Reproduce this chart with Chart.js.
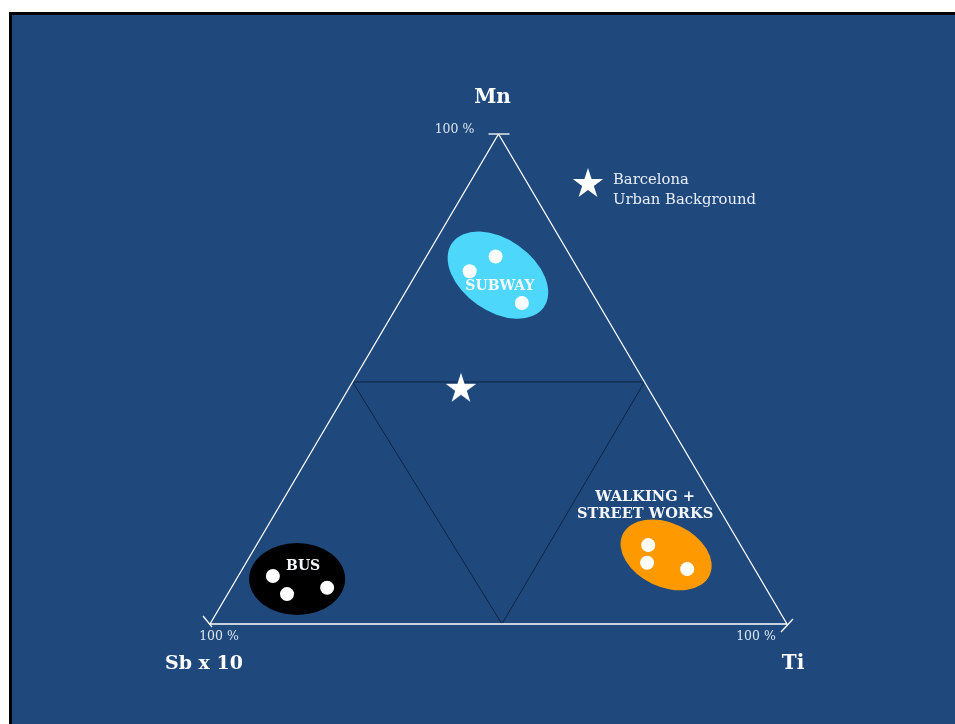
<!DOCTYPE html>
<html>
<head>
<meta charset="utf-8">
<script src="https://cdn.jsdelivr.net/npm/chart.js@4"></script>
<style>
  html, body { margin: 0; padding: 0; background: #ffffff; }
  #wrap { position: relative; width: 955px; height: 724px; }
</style>
</head>
<body>
<div id="wrap"><canvas id="ternary" width="955" height="724"></canvas></div>
<script>
// Ternary compositions, each point is [Mn, Ti, Sb x 10] in %
var corners = ['Mn', 'Ti', 'Sb x 10'];
var cornerTick = '100 %';
var outerTriangle = [[100, 0, 0], [0, 100, 0], [0, 0, 100], [100, 0, 0]];
var innerTriangle = [[49.4, 50.6, 0], [0, 50.6, 49.4], [49.4, 0, 50.6], [49.4, 50.6, 0]];

var subwayPts = [[75, 12, 13], [72, 9, 19], [65.5, 21.3, 13.2]];
var busPts = [[9.8, 6, 84.2], [6.1, 10.3, 83.6], [7.4, 16.6, 76]];
var walkingPts = [[16.1, 67.9, 16], [12.5, 69.5, 18], [11.2, 77.1, 11.7]];
var urbanBackground = [[48, 19.5, 32.5]];

// cluster regions (centre composition)
var groupNames = ['SUBWAY', 'BUS', 'WALKING +\nSTREET WORKS'];
var groupCentres = [[71.2, 14.3, 14.5], [9.2, 10.5, 80.3], [14.1, 72, 13.9]];
var groupColors = ['#4dd8fb', '#000000', '#ff9900'];

var legendText = ['Barcelona', 'Urban Background'];

function toXY(c) {
  var s = c[0] + c[1] + c[2];
  var mn = c[0] / s, ti = c[1] / s;
  return { x: ti + mn / 2, y: mn };
}

// filled five point star used as point style
function makeStar(R) {
  var cv = document.createElement('canvas');
  var size = Math.ceil(R * 2) + 2;
  cv.width = size; cv.height = size;
  var g = cv.getContext('2d');
  var r = R * 0.382;
  g.beginPath();
  for (var i = 0; i < 10; i++) {
    var rad = i % 2 === 0 ? R : r;
    var a = -Math.PI / 2 + i * Math.PI / 5;
    var px = size / 2 + rad * Math.cos(a), py = size / 2 + rad * Math.sin(a);
    if (i === 0) g.moveTo(px, py); else g.lineTo(px, py);
  }
  g.closePath();
  g.fillStyle = '#ffffff';
  g.fill();
  return cv;
}
var star = makeStar(16);

var SERIF = '"DejaVu Serif", "Liberation Serif", serif';

var framePlugin = {
  id: 'frame',
  beforeDraw: function(chart) {
    var ctx = chart.ctx;
    ctx.save();
    ctx.fillStyle = '#ffffff';
    ctx.fillRect(0, 0, chart.width, chart.height);
    ctx.fillStyle = '#000000';
    ctx.fillRect(9, 12, chart.width, chart.height);
    ctx.fillStyle = '#1f497d';
    ctx.fillRect(12, 15, chart.width, chart.height);
    ctx.restore();
  },
  beforeDatasetsDraw: function(chart) {
    var ctx = chart.ctx, xs = chart.scales.x, ys = chart.scales.y;
    var shapes = [[56, 36, 35], [48, 36, 0], [48, 32, 25]];
    ctx.save();
    groupCentres.forEach(function(c, i) {
      var p = toXY(c);
      ctx.beginPath();
      ctx.ellipse(xs.getPixelForValue(p.x), ys.getPixelForValue(p.y), shapes[i][0], shapes[i][1], shapes[i][2] * Math.PI / 180, 0, Math.PI * 2);
      ctx.fillStyle = groupColors[i];
      ctx.fill();
    });
    // ticks at the corners
    var ticks = [[-10, 0, 11, 0], [-7, -8, 2, 3], [-6, 8, 6, -5]];
    var order = [0, 2, 1];
    ctx.strokeStyle = '#ffffff';
    ctx.lineWidth = 1.3;
    order.forEach(function(k, i) {
      var v = toXY(outerTriangle[k]);
      var px = xs.getPixelForValue(v.x), py = ys.getPixelForValue(v.y);
      ctx.beginPath();
      ctx.moveTo(px + ticks[i][0], py + ticks[i][1]);
      ctx.lineTo(px + ticks[i][2], py + ticks[i][3]);
      ctx.stroke();
    });
    ctx.restore();
  },
  afterDatasetsDraw: function(chart) {
    var ctx = chart.ctx, xs = chart.scales.x, ys = chart.scales.y;
    ctx.save();
    ctx.textAlign = 'center';
    ctx.textBaseline = 'middle';

    // group labels
    var offs = [[2, 11], [6, -13], [-21, -58]];
    var sizes = [14, 14, 14.6];
    ctx.fillStyle = '#f4f6fa';
    groupNames.forEach(function(name, i) {
      var p = toXY(groupCentres[i]);
      var cx = xs.getPixelForValue(p.x) + offs[i][0], cy = ys.getPixelForValue(p.y) + offs[i][1];
      ctx.font = 'bold ' + sizes[i] + 'px ' + SERIF;
      name.split('\n').forEach(function(line, j) {
        ctx.fillText(line, cx, cy + j * 17);
      });
    });

    // corner names and 100 % marks
    var nameOffs = [[-6, -36], [6, 40], [-6, 40]];
    var tickOffs = [[-44, -4], [-31, 13], [9, 13]];
    corners.forEach(function(name, i) {
      var c = [0, 0, 0]; c[i] = 100;
      var v = toXY(c);
      var px = xs.getPixelForValue(v.x), py = ys.getPixelForValue(v.y);
      ctx.fillStyle = '#ffffff';
      ctx.font = 'bold ' + (i === 2 ? 19 : 20) + 'px ' + SERIF;
      ctx.fillText(name, px + nameOffs[i][0], py + nameOffs[i][1]);
      ctx.fillStyle = '#dce4ee';
      ctx.font = '12.5px ' + SERIF;
      ctx.fillText(cornerTick, px + tickOffs[i][0], py + tickOffs[i][1]);
    });

    // legend
    ctx.drawImage(star, 588 - star.width / 2, 184 - star.height / 2);
    ctx.textAlign = 'left';
    ctx.fillStyle = '#e8eef6';
    ctx.font = '14.8px ' + SERIF;
    ctx.fillText(legendText[0], 613, 180);
    ctx.fillText(legendText[1], 613, 200);
    ctx.restore();
  }
};

function pts(list) { return list.map(toXY); }

new Chart(document.getElementById('ternary'), {
  type: 'scatter',
  data: {
    datasets: [
      { data: pts(outerTriangle), showLine: true, borderColor: '#ffffff', borderWidth: 1.3, pointRadius: 0, clip: false, order: 10 },
      { data: pts(innerTriangle), showLine: true, borderColor: '#0e2440', borderWidth: 1, pointRadius: 0, clip: false, order: 10 },
      { data: pts(subwayPts), backgroundColor: '#ffffff', borderWidth: 0, pointRadius: 7, clip: false },
      { data: pts(busPts), backgroundColor: '#ffffff', borderWidth: 0, pointRadius: 7, clip: false },
      { data: pts(walkingPts), backgroundColor: '#ffffff', borderWidth: 0, pointRadius: 7, clip: false },
      { data: pts(urbanBackground), pointStyle: star, pointRadius: 16, clip: false, order: 0 }
    ]
  },
  options: {
    responsive: false, animation: false, events: [],
    layout: { padding: { left: 210, right: 168, top: 134, bottom: 100 } },
    plugins: { legend: { display: false }, tooltip: { enabled: false } },
    scales: {
      x: { type: 'linear', min: 0, max: 1, display: false },
      y: { type: 'linear', min: 0, max: 1, display: false }
    }
  },
  plugins: [framePlugin]
});
</script>
</body>
</html>
